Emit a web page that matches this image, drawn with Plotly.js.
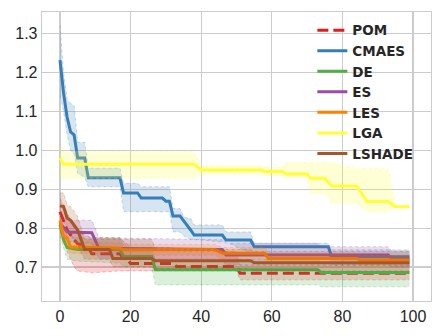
<!DOCTYPE html>
<html>
<head>
<meta charset="utf-8">
<script src="https://cdn.plot.ly/plotly-3.0.1.min.js"></script>
<style>
  html, body { margin: 0; padding: 0; background: #fff; }
  #chart { width: 443px; height: 336px; }
</style>
</head>
<body>
<div id="chart"></div>
<script>
// names in legend order
var algos = ["POM", "CMAES", "DE", "ES", "LES", "LGA", "LSHADE"];

// POM
var pomIter = [0, 1, 2, 4, 5, 8, 9, 17, 18, 19, 20, 32, 33, 50, 51, 99];
var pomMean = [0.842, 0.82, 0.795, 0.77, 0.76, 0.75, 0.734, 0.734, 0.722, 0.72, 0.709, 0.709, 0.701, 0.701, 0.684, 0.684];
var pomLo   = [0.80, 0.78, 0.74, 0.70, 0.69, 0.685, 0.685, 0.69, 0.69, 0.69, 0.69, 0.69, 0.69, 0.69, 0.667, 0.667];
var pomHi   = [0.875, 0.86, 0.84, 0.80, 0.79, 0.78, 0.775, 0.775, 0.765, 0.76, 0.75, 0.75, 0.74, 0.74, 0.705, 0.705];

// CMAES
var cmaesIter = [0, 1, 2, 3, 4, 5, 7, 8, 17, 18, 22, 23, 29, 30, 31, 32, 34, 35, 36, 37, 38, 39, 46, 47, 54, 55, 76, 77, 99];
var cmaesMean = [1.231, 1.147, 1.085, 1.047, 1.039, 0.98, 0.98, 0.929, 0.929, 0.89, 0.89, 0.877, 0.877, 0.869, 0.869, 0.831, 0.831, 0.82, 0.808, 0.795, 0.782, 0.782, 0.782, 0.769, 0.769, 0.752, 0.752, 0.726, 0.726];
var cmaesLo   = [1.14, 1.10, 1.04, 1.0, 0.99, 0.94, 0.93, 0.906, 0.906, 0.842, 0.842, 0.842, 0.842, 0.842, 0.842, 0.79, 0.79, 0.78, 0.775, 0.77, 0.77, 0.77, 0.764, 0.764, 0.735, 0.73, 0.73, 0.705, 0.705];
var cmaesHi   = [1.32, 1.20, 1.13, 1.12, 1.115, 1.02, 1.02, 0.954, 0.954, 0.915, 0.915, 0.906, 0.906, 0.906, 0.906, 0.85, 0.85, 0.83, 0.826, 0.826, 0.808, 0.808, 0.808, 0.79, 0.79, 0.761, 0.761, 0.744, 0.744];

// DE
var deIter = [0, 1, 2, 5, 17, 18, 26, 27, 73, 74, 99];
var deMean = [0.808, 0.77, 0.75, 0.745, 0.745, 0.727, 0.727, 0.693, 0.693, 0.686, 0.686];
var deLo   = [0.78, 0.75, 0.72, 0.715, 0.71, 0.70, 0.70, 0.654, 0.654, 0.649, 0.649];
var deHi   = [0.83, 0.80, 0.78, 0.775, 0.775, 0.75, 0.75, 0.72, 0.72, 0.71, 0.71];

// ES
var esIter = [0, 2, 9, 10, 11, 46, 47, 73, 74, 93, 94, 99];
var esMean = [0.813, 0.79, 0.788, 0.77, 0.748, 0.745, 0.731, 0.731, 0.731, 0.731, 0.72, 0.72];
var esLo   = [0.79, 0.765, 0.76, 0.74, 0.72, 0.72, 0.705, 0.705, 0.705, 0.705, 0.70, 0.70];
var esHi   = [0.835, 0.82, 0.82, 0.80, 0.775, 0.77, 0.761, 0.761, 0.752, 0.752, 0.74, 0.74];

// LES
var lesIter = [0, 1, 2, 3, 17, 18, 44, 46, 58, 59, 84, 85, 99];
var lesMean = [0.82, 0.78, 0.774, 0.752, 0.748, 0.744, 0.744, 0.735, 0.735, 0.722, 0.722, 0.718, 0.718];
var lesLo   = [0.80, 0.76, 0.75, 0.735, 0.735, 0.73, 0.73, 0.72, 0.72, 0.71, 0.71, 0.705, 0.705];
var lesHi   = [0.84, 0.80, 0.79, 0.765, 0.762, 0.758, 0.758, 0.75, 0.75, 0.735, 0.735, 0.73, 0.73];

// LGA
var lgaIter = [0, 1, 38, 40, 57, 58, 63, 64, 70, 71, 75, 77, 84, 87, 93, 95, 99];
var lgaMean = [0.98, 0.964, 0.964, 0.949, 0.949, 0.945, 0.945, 0.939, 0.939, 0.928, 0.928, 0.908, 0.908, 0.868, 0.868, 0.855, 0.855];
var lgaLo   = [0.93, 0.928, 0.928, 0.938, 0.938, 0.935, 0.935, 0.93, 0.93, 0.889, 0.889, 0.864, 0.864, 0.842, 0.842, 0.855, 0.855];
var lgaHi   = [1.009, 0.996, 0.996, 0.96, 0.96, 0.956, 0.956, 0.968, 0.968, 0.968, 0.968, 0.968, 0.953, 0.953, 0.953, 0.855, 0.855];

// LSHADE
var lshadeIter = [0, 1, 2, 3, 5, 6, 7, 14, 15, 26, 27, 54, 55, 99];
var lshadeMean = [0.857, 0.855, 0.826, 0.82, 0.795, 0.769, 0.745, 0.745, 0.722, 0.722, 0.716, 0.716, 0.711, 0.711];
var lshadeLo   = [0.83, 0.82, 0.79, 0.78, 0.76, 0.735, 0.72, 0.72, 0.70, 0.70, 0.695, 0.695, 0.69, 0.69];
var lshadeHi   = [0.89, 0.89, 0.86, 0.855, 0.83, 0.80, 0.771, 0.771, 0.771, 0.771, 0.745, 0.745, 0.74, 0.74];

var yTicks = [0.7, 0.8, 0.9, 1.0, 1.1, 1.2, 1.3];
var xTicks = [0, 20, 40, 60, 80, 100];

// Set1 colours
var rgb = {
    POM: "228,26,28", CMAES: "55,126,184", DE: "77,175,74", ES: "152,78,163",
    LES: "255,127,0", LGA: "255,255,51", LSHADE: "166,86,40"
};

var series = [
    [pomIter, pomMean, pomLo, pomHi],
    [cmaesIter, cmaesMean, cmaesLo, cmaesHi],
    [deIter, deMean, deLo, deHi],
    [esIter, esMean, esLo, esHi],
    [lesIter, lesMean, lesLo, lesHi],
    [lgaIter, lgaMean, lgaLo, lgaHi],
    [lshadeIter, lshadeMean, lshadeLo, lshadeHi]
];

var traces = [];
algos.forEach(function(name, i) {
    var s = series[i], c = rgb[name];
    traces.push({
        x: s[0], y: s[2], type: 'scatter', mode: 'lines', showlegend: false, hoverinfo: 'skip',
        line: {color: 'rgba(' + c + ',0.35)', width: 0.8, dash: 'dot'}
    });
    traces.push({
        x: s[0], y: s[3], type: 'scatter', mode: 'lines', showlegend: false, hoverinfo: 'skip',
        fill: 'tonexty', fillcolor: 'rgba(' + c + ',0.2)',
        line: {color: 'rgba(' + c + ',0.35)', width: 0.8, dash: 'dot'}
    });
    traces.push({
        x: s[0], y: s[1], type: 'scatter', mode: 'lines', name: name,
        line: {color: 'rgb(' + c + ')', width: 3, dash: name === 'POM' ? '11px,5px' : 'solid'}
    });
});

var axisStyle = {
    showgrid: true, gridcolor: '#cccccc', gridwidth: 1.1,
    showline: true, mirror: true, linecolor: '#cccccc', linewidth: 1.3,
    zeroline: false, ticks: '',
    tickfont: {family: 'Liberation Sans, Arial, sans-serif', size: 16, color: '#262626'}
};

var layout = {
    width: 443, height: 336,
    margin: {l: 42, r: 12, t: 12, b: 35},
    paper_bgcolor: '#ffffff', plot_bgcolor: '#ffffff',
    showlegend: true,
    legend: {
        x: 0.695, y: 0.99, xanchor: 'left', yanchor: 'top',
        traceorder: 'normal',
        bgcolor: 'rgba(0,0,0,0)', borderwidth: 0,
        font: {family: 'DejaVu Sans, sans-serif', size: 13.5, color: '#262626', weight: 'bold'}
    },
    xaxis: Object.assign({}, axisStyle, {range: [-5.1, 105.1], tickvals: xTicks}),
    yaxis: Object.assign({}, axisStyle, {range: [0.6127, 1.3547], tickvals: yTicks, tickformat: '.1f'})
};

Plotly.newPlot('chart', traces, layout, {displayModeBar: false, staticPlot: true});
</script>
</body>
</html>
